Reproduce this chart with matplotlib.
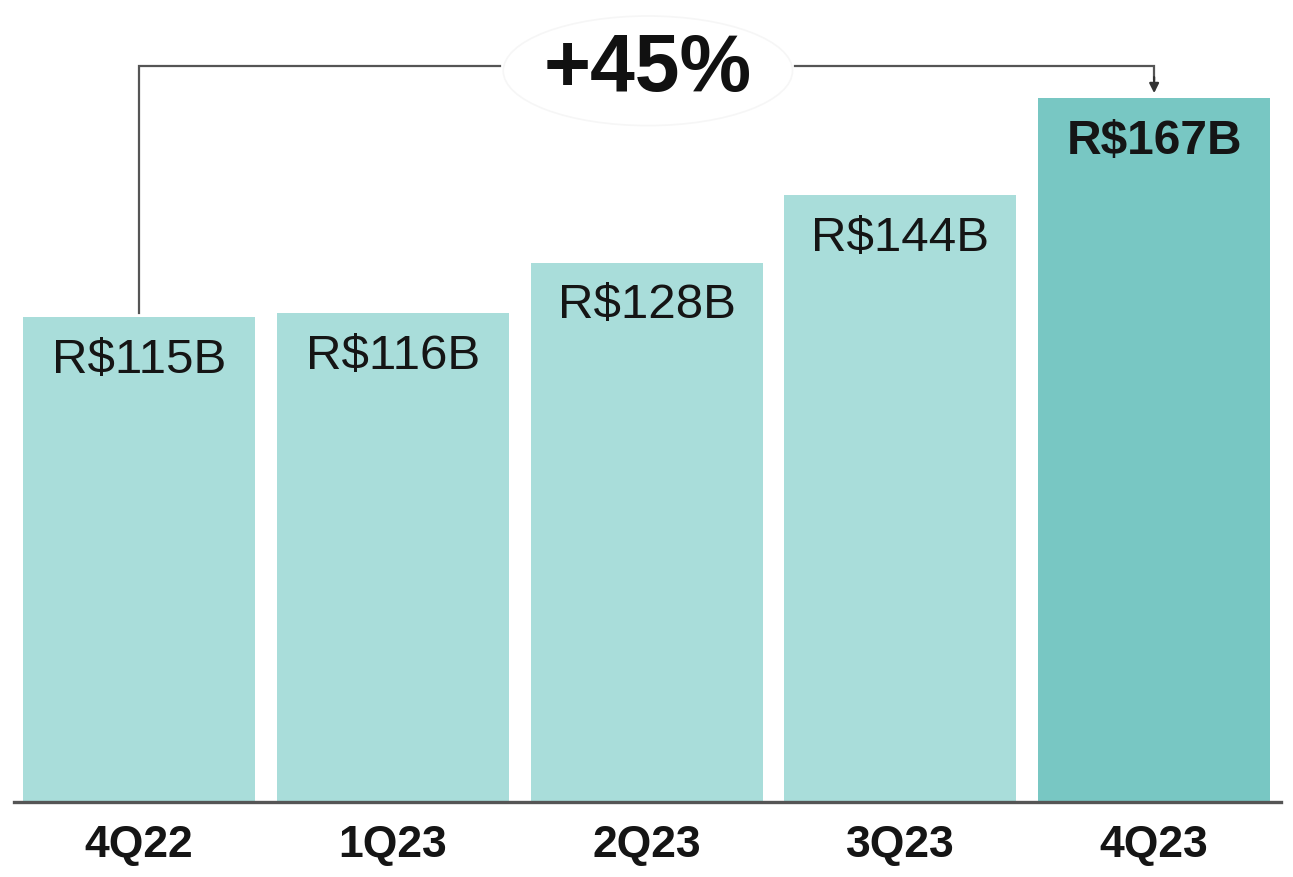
import matplotlib.pyplot as plt
from matplotlib.patches import Ellipse

plt.rcParams['font.family'] = ['Liberation Sans', 'DejaVu Sans']

quarters = ['4Q22', '1Q23', '2Q23', '3Q23', '4Q23']
values = [115, 116, 128, 144, 167]
labels = ['R$115B', 'R$116B', 'R$128B', 'R$144B', 'R$167B']
growth = '+45%'

light = '#A9DDDA'
dark = '#78C7C3'
colors = [light] * 4 + [dark]

fig = plt.figure(figsize=(12.93, 8.77), dpi=100)
ax = fig.add_axes([14 / 1293, 75 / 877, (1281 - 14) / 1293, 802 / 877])

x = range(len(quarters))
ax.bar(x, values, width=0.915, color=colors)
ax.set_xlim(-0.493, 4.5)
ax.set_ylim(0, 190.3)

for s in ['top', 'right', 'left']:
    ax.spines[s].set_visible(False)
ax.spines['bottom'].set_color('#555555')
ax.spines['bottom'].set_linewidth(2.4)
ax.set_yticks([])
ax.set_xticks([])

# value labels inside bars
for i, (v, lab) in enumerate(zip(values, labels)):
    bold = i == len(values) - 1
    ax.annotate(lab, (i, v), xytext=(0, -40), textcoords='offset points',
                ha='center', va='baseline', color='#151515',
                fontsize=34.5 if bold else 35.5,
                fontweight='bold' if bold else 'normal')

# category labels
for i, q in enumerate(quarters):
    ax.annotate(q, (i, 0), xytext=(0, -39.5), textcoords='offset points',
                ha='center', va='baseline', fontsize=32, fontweight='bold',
                color='#151515', annotation_clip=False)

# growth bracket
yb = 174.6
lc = '#555555'
ax.plot([0, 0, 1.423], [values[0] + 1, yb, yb], color=lc, lw=1.6,
        solid_joinstyle='miter')
ax.plot([2.586, 4, 4], [yb, yb, 171.5], color=lc, lw=1.6,
        solid_joinstyle='miter')
ax.annotate('', xy=(4, 168.2), xytext=(4, 172),
            arrowprops=dict(arrowstyle='-|>', color='#333333', lw=1.6,
                            mutation_scale=14, shrinkA=0, shrinkB=0))
ax.add_patch(Ellipse((2.005, 173.5), 1.14, 26, facecolor='none',
                     edgecolor='#f6f6f6', lw=1.2, clip_on=False))
ax.text(2.005, 168.6, growth, ha='center', va='baseline', fontsize=58,
        fontweight='bold', color='#111111')

fig.savefig('out.png', dpi=100)
